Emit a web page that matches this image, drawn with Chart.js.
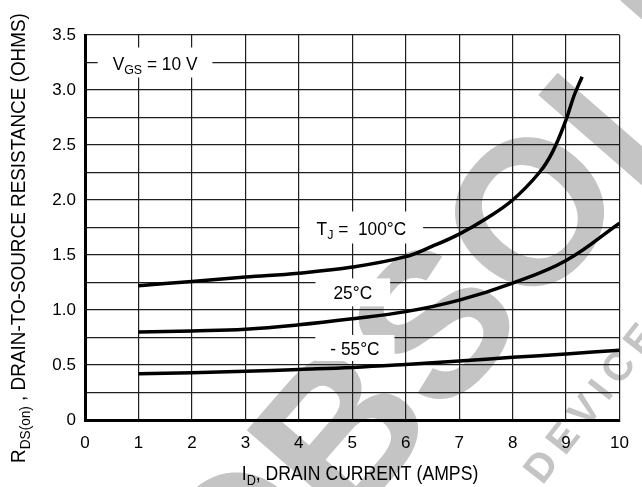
<!DOCTYPE html>
<html>
<head>
<meta charset="utf-8">
<script src="https://cdn.jsdelivr.net/npm/chart.js@4.4.1/dist/chart.umd.min.js"></script>
<style>
  body { margin: 0; background: #fff; }
  canvas { display: block; }
</style>
</head>
<body>
<canvas id="rdsChart" width="642" height="487"></canvas>
<script>
// Drain current (A) and on-resistance (ohms)
const current100 = [1, 2, 3, 4, 5, 6, 6.5, 7, 7.5, 8, 8.5, 8.75, 9, 9.15, 9.3];
const rds100 = [1.22, 1.26, 1.30, 1.335, 1.39, 1.485, 1.58, 1.69, 1.83, 2.0, 2.25, 2.44, 2.73, 2.95, 3.12];
const current25 = [1, 2, 3, 4, 5, 6, 7, 8, 9, 10];
const rds25 = [0.80, 0.81, 0.825, 0.865, 0.92, 0.985, 1.09, 1.245, 1.45, 1.79];
const currentMinus55 = [1, 2, 3, 4, 5, 6, 7, 8, 9, 10];
const rdsMinus55 = [0.42, 0.43, 0.443, 0.46, 0.478, 0.505, 0.536, 0.57, 0.6, 0.635];

const xTickLabels = ['0', '1', '2', '3', '4', '5', '6', '7', '8', '9', '10'];
const yTickLabels = ['0', '0.5', '1.0', '1.5', '2.0', '2.5', '3.0', '3.5'];

const FONT = '"Liberation Sans", Arial, sans-serif';

function toPoints(xs, ys) {
    return xs.map((x, i) => ({ x: x, y: ys[i] }));
}

// text with subscripts: parts = [{t, sub}], sx squeezes it horizontally
function richWidth(ctx, parts, size, sx) {
    let w = 0;
    parts.forEach(p => {
        ctx.font = (p.sub ? size * 0.72 : size) + 'px ' + FONT;
        w += ctx.measureText(p.t).width;
    });
    return w * (sx || 1);
}
function drawRich(ctx, parts, x, y, size, sx) {
    ctx.save();
    ctx.translate(x, y);
    ctx.scale(sx || 1, 1);
    let px = 0;
    parts.forEach(p => {
        const s = p.sub ? size * 0.72 : size;
        ctx.font = s + 'px ' + FONT;
        ctx.fillText(p.t, px, p.sub ? size * 0.22 : 0);
        px += ctx.measureText(p.t).width;
    });
    ctx.restore();
}

// curve tags with white boxes
const tagText = [
    [{ t: 'V' }, { t: 'GS', sub: true }, { t: ' = 10 V' }],
    [{ t: 'T' }, { t: 'J', sub: true }, { t: ' =  100°C' }],
    [{ t: '25°C' }],
    [{ t: '- 55°C' }]
];
const tagPlugin = {
    id: 'tags',
    beforeDatasetsDraw(chart) {
        const ctx = chart.ctx;
        const xs = chart.scales.x, ys = chart.scales.y;
        const spots = [
            { x: 1.31, y: 3.25, padX: 15, h: 30 },
            { x: 5.17, y: 1.75, padX: 17, h: 32 },
            { x: 5.01, y: 1.16, padX: 18, h: 28 },
            { x: 5.05, y: 0.655, padX: 15, h: 26 }
        ];
        ctx.save();
        ctx.textBaseline = 'alphabetic';
        ctx.textAlign = 'left';
        tagText.forEach((parts, i) => {
            const s = spots[i];
            const cx = xs.getPixelForValue(s.x);
            const cy = ys.getPixelForValue(s.y);
            const w = richWidth(ctx, parts, 18, 0.96);
            ctx.fillStyle = '#fff';
            ctx.fillRect(cx - w / 2 - s.padX, cy - s.h / 2, w + 2 * s.padX, s.h);
            ctx.fillStyle = '#000';
            drawRich(ctx, parts, cx - w / 2, cy + 7, 19, 0.91);
        });
        ctx.restore();
    }
};

// axis titles
const xTitle = [{ t: 'I' }, { t: 'D', sub: true }, { t: ', DRAIN CURRENT (AMPS)' }];
const yTitle = [{ t: 'R' }, { t: 'DS(on)', sub: true }, { t: ' , DRAIN-TO-SOURCE RESISTANCE (OHMS)' }];
const titlePlugin = {
    id: 'titles',
    afterDraw(chart) {
        const ctx = chart.ctx;
        ctx.save();
        ctx.fillStyle = '#000';
        ctx.textBaseline = 'alphabetic';
        let w = richWidth(ctx, xTitle, 21, 0.84);
        drawRich(ctx, xTitle, 360 - w / 2, 480, 21, 0.84);
        ctx.translate(25, 238);
        ctx.rotate(-Math.PI / 2);
        w = richWidth(ctx, yTitle, 21, 0.9);
        drawRich(ctx, yTitle, -w / 2, 0, 21, 0.9);
        ctx.restore();
    }
};

// grey "obsolete" stamp behind the grid
const stampWords = ['OBSOLETE', 'DEVICE'];
const stampPlugin = {
    id: 'stamp',
    beforeDraw(chart) {
        const ctx = chart.ctx;
        ctx.save();
        ctx.fillStyle = '#c4c4c4';
        ctx.font = 'bold 205px ' + FONT;
        const pre = ctx.measureText('OBS').width;
        const o = ctx.measureText('O').width;
        ctx.translate(528, 210);
        ctx.rotate(-49 * Math.PI / 180);
        ctx.fillText(stampWords[0], -(pre + o / 2), 205 * 0.716 / 2);
        ctx.restore();

        ctx.save();
        ctx.fillStyle = '#c4c4c4';
        ctx.font = 'bold 40px ' + FONT;
        ctx.translate(540, 466);
        ctx.rotate(-52 * Math.PI / 180);
        ctx.letterSpacing = '8px';
        ctx.fillText(stampWords[1], -14, 14);
        ctx.restore();
    }
};

const ctx = document.getElementById('rdsChart').getContext('2d');
const curveStyle = {
    borderColor: '#000',
    borderWidth: 3.5,
    pointRadius: 0,
    fill: false,
    tension: 0.4
};
new Chart(ctx, {
    type: 'line',
    data: {
        datasets: [
            Object.assign({ label: 'TJ = 100°C', data: toPoints(current100, rds100) }, curveStyle),
            Object.assign({ label: '25°C', data: toPoints(current25, rds25) }, curveStyle),
            Object.assign({ label: '-55°C', data: toPoints(currentMinus55, rdsMinus55) }, curveStyle)
        ]
    },
    options: {
        responsive: false,
        animation: false,
        layout: { padding: { top: 35, right: 10, left: 0, bottom: 0 } },
        plugins: {
            legend: { display: false },
            tooltip: { enabled: false }
        },
        scales: {
            x: {
                type: 'linear',
                min: 0,
                max: 10,
                ticks: {
                    stepSize: 1,
                    autoSkip: false,
                    maxRotation: 0,
                    padding: 13,
                    color: '#000',
                    font: { family: FONT, size: 17 },
                    callback: v => xTickLabels[Math.round(v)]
                },
                grid: { color: '#1e1e1e', lineWidth: 1.2, drawTicks: false },
                border: { color: '#000', width: 3 },
                afterFit: s => { s.height = 67; }
            },
            y: {
                min: 0,
                max: 3.5,
                ticks: {
                    stepSize: 0.25,
                    autoSkip: false,
                    padding: 9,
                    color: '#000',
                    font: { family: FONT, size: 17 },
                    callback: v => {
                        const k = Math.round(v * 2);
                        return Math.abs(v * 2 - k) < 1e-6 ? yTickLabels[k] : '';
                    }
                },
                grid: { color: '#1e1e1e', lineWidth: 1.2, drawTicks: false },
                border: { color: '#000', width: 3 },
                afterFit: s => { s.width = 85; }
            }
        }
    },
    plugins: [stampPlugin, tagPlugin, titlePlugin]
});
</script>
</body>
</html>
